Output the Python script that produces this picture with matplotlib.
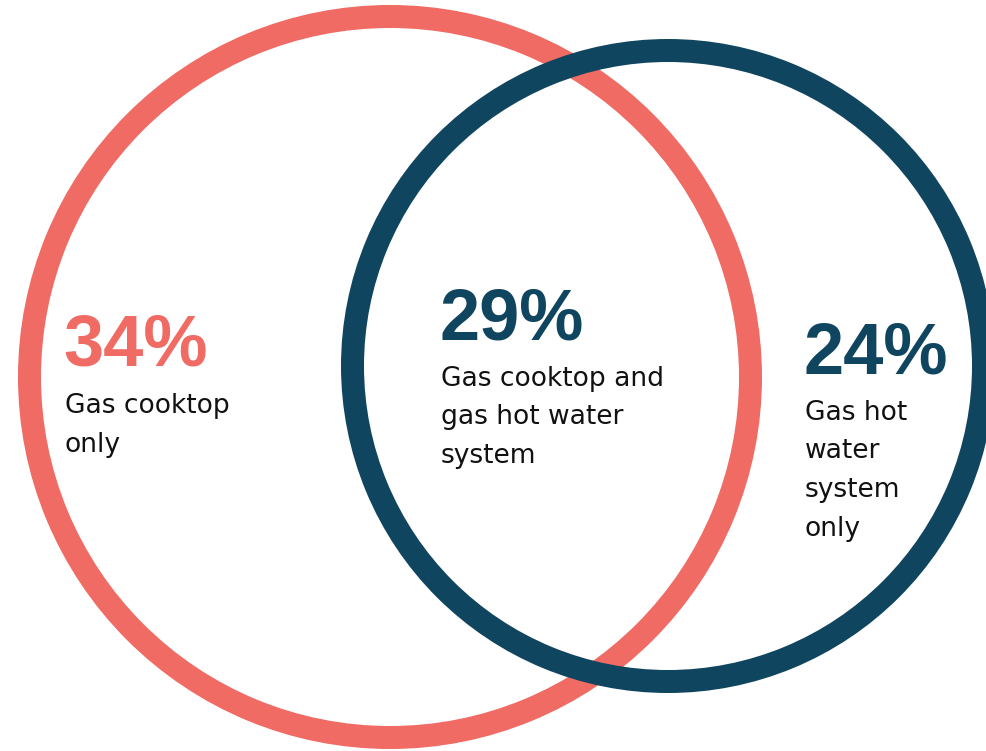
import matplotlib
matplotlib.use("Agg")
import matplotlib.pyplot as plt
from matplotlib.patches import Wedge

# Shares of households by gas appliance combination
shares = [34, 29, 24]
segment_labels = [
    ["Gas cooktop", "only"],
    ["Gas cooktop and", "gas hot water", "system"],
    ["Gas hot", "water", "system", "only"],
]
share_colors = ["#EF6B63", "#10455F", "#10455F"]

RED = "#EF6B63"
NAVY = "#10455F"

W, H = 987, 751
fig = plt.figure(figsize=(W / 100, H / 100), dpi=100)
ax = fig.add_axes([0, 0, 1, 1])
ax.set_xlim(0, W)
ax.set_ylim(H, 0)
ax.set_aspect("equal")
ax.axis("off")

# Two overlapping rings (centre, outer radius, ring thickness)
ring_w = 23
ax.add_patch(Wedge((390, 377), 372, 0, 360, width=ring_w, facecolor=RED,
                   edgecolor="none", zorder=1))
ax.add_patch(Wedge((668, 366), 327, 0, 360, width=ring_w, facecolor=NAVY,
                   edgecolor="none", zorder=2))

# Text blocks: left x, baseline of the percentage, baseline of the first label line
blocks = [(65, 366, 413), (441, 339, 386), (805, 374, 420)]
line_gap = 38.5

for share, lines, col, (x, y_num, y_lab) in zip(shares, segment_labels,
                                                share_colors, blocks):
    ax.text(x - 2, y_num, f"{share}%", color=col, fontsize=52,
            fontweight="bold", family="Liberation Sans",
            ha="left", va="baseline", zorder=3)
    for i, line in enumerate(lines):
        ax.text(x, y_lab + i * line_gap, line, color="#111111",
                fontsize=19.1, family="DejaVu Sans",
                ha="left", va="baseline", zorder=3)

fig.savefig("out.png", dpi=100, facecolor="white")
